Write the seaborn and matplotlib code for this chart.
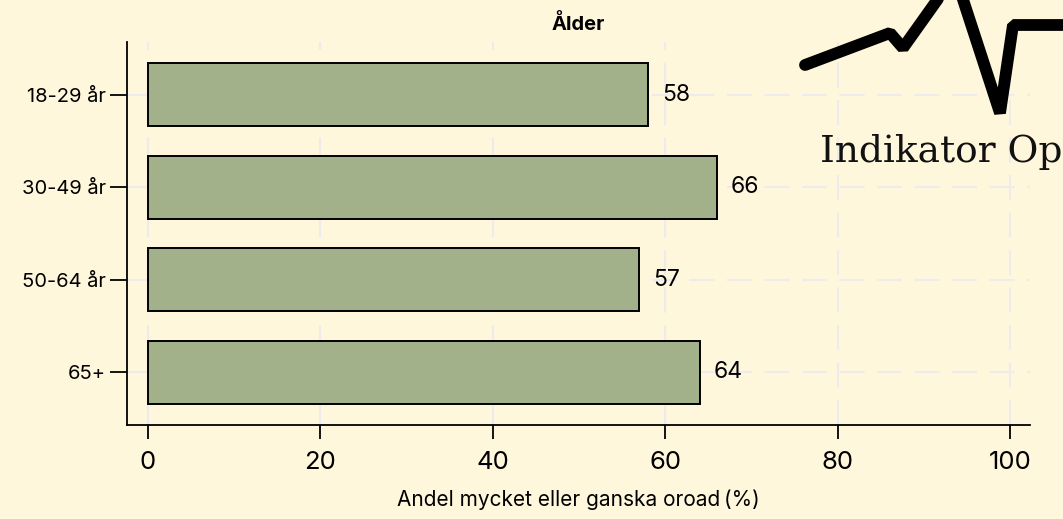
import matplotlib
matplotlib.use("Agg")
import matplotlib.pyplot as plt
import seaborn as sns
import pandas as pd

categories = ["18-29 år", "30-49 år", "50-64 år", "65+"]
values = [58, 66, 57, 64]
x_ticks = [0, 20, 40, 60, 80, 100]
title = "Ålder"
xlabel = "Andel mycket eller ganska oroad\u2009(%)"
logo_text = "Indikator Op"
# decorative logo polyline (pixel space)
logo_x = [805, 890, 903, 955, 1000, 1013, 1063]
logo_y = [65, 33, 48, -25, 113, 25, 25]

BG = "#FFF7DC"
BAR = "#A3B18A"
GRID = "#EDEBEC"

sns.set_theme(style="white")
plt.rcParams["font.family"] = ["Inter", "DejaVu Sans"]
plt.rcParams["text.color"] = "black"
plt.rcParams["axes.labelcolor"] = "black"
plt.rcParams["xtick.color"] = "black"
plt.rcParams["ytick.color"] = "black"

fig = plt.figure(figsize=(10.63, 5.19), dpi=100)
fig.patch.set_facecolor(BG)

ax = fig.add_axes([127 / 1063, 1 - 425 / 519, (1030 - 127) / 1063, (425 - 42) / 519], zorder=1)
ax.patch.set_alpha(0)

df = pd.DataFrame({"cat": categories, "val": values})
sns.barplot(data=df, y="cat", x="val", orient="h", color=BAR, edgecolor="black",
            linewidth=1.4, width=0.68, saturation=1, ax=ax, zorder=3)

ax.set_xlim(-2.44, 102.3)
ax.set_ylim(3.57, -0.57)
ax.set_xticks(x_ticks)
ax.set_xticklabels([str(t) for t in x_ticks], fontsize=18.5)
ax.tick_params(axis="y", labelsize=14.5, length=12, width=1.3, color="black", left=True, pad=3)
ax.tick_params(axis="x", length=10, width=1.3, color="black", bottom=True, pad=9)

ax.grid(True, axis="both", color=GRID, linestyle=(0, (12, 6)), linewidth=1.5, zorder=0)
ax.set_axisbelow(True)

for s in ["top", "right"]:
    ax.spines[s].set_visible(False)
for s in ["left", "bottom"]:
    ax.spines[s].set_color("black")
    ax.spines[s].set_linewidth(1.3)

ax.set_ylabel("")
ax.set_xlabel(xlabel, fontsize=15, labelpad=11)
ax.set_title(title, fontsize=14.5, fontweight="bold", pad=9)

for c in ax.containers:
    ax.bar_label(c, labels=[str(v) for v in values], padding=10, fontsize=16.5)

# logo layer (drawn above grid)
lax = fig.add_axes([0, 0, 1, 1], zorder=2)
lax.set_xlim(0, 1063)
lax.set_ylim(519, 0)
lax.axis("off")
lax.patch.set_alpha(0)
lax.plot(logo_x, logo_y, color="black", lw=8.5, solid_joinstyle="bevel", zorder=5)
lax.text(820, 162, logo_text, fontsize=27, family=["DejaVu Serif"], color="#111111",
         va="baseline", ha="left", zorder=5)

fig.savefig("out.png", dpi=100, facecolor=BG)
